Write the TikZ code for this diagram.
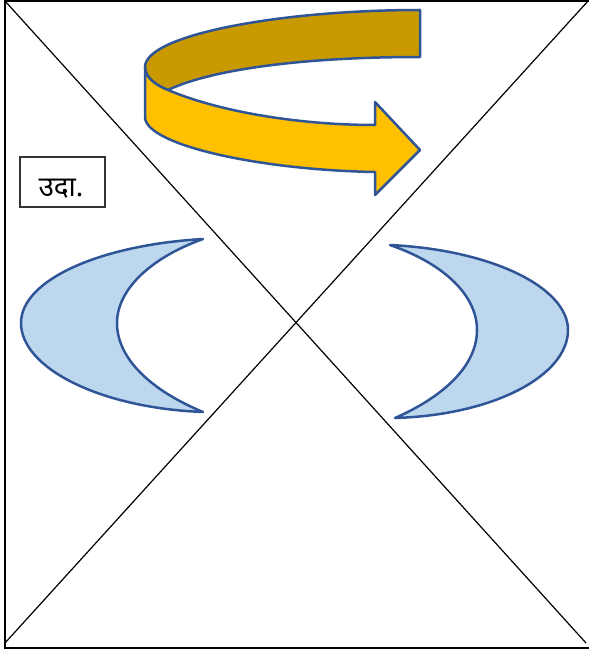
\documentclass[tikz,border=0pt]{standalone}
\usepackage{fontspec}
\newfontfamily\devfont[Script=Devanagari]{Noto Sans}
\definecolor{outl}{HTML}{2F5597}
\definecolor{darkgold}{HTML}{C99A00}
\definecolor{gold}{HTML}{FFC000}
\definecolor{moon}{HTML}{BDD7EE}
\tikzset{
  shapeline/.style={draw=outl, line width=2.5pt, line join=round},
  diag/.style={draw=black, line width=1.2pt},
  frameline/.style={draw=black, line width=2pt},
  labelbox/.style={draw=black!80, line width=2.2pt, fill=white, minimum width=85pt, minimum height=50pt, inner sep=0pt},
  labeltext/.style={inner sep=0pt, font=\devfont\fontsize{28}{32}\selectfont}
}
\begin{document}
\begin{tikzpicture}[x=1pt,y=-1pt]
\useasboundingbox (0,0) rectangle (589,650);
% frame
\coordinate (TL) at (5,1);
\coordinate (TR) at (589,1);
\coordinate (BL) at (5,648);
\coordinate (BR) at (589,648);
\draw[frameline] (TR) -- (TL) -- (BL) -- (BR);
% diagonals
\coordinate (d1a) at (5,1);
\coordinate (d1b) at (586,643);
\coordinate (d2a) at (5,643);
\coordinate (d2b) at (588,1);
\draw[diag] (d1a) -- (d1b);
\draw[diag] (d2a) -- (d2b);
% curved arrow: back (dark) band
\path[shapeline, fill=darkgold]
  (420,10) -- (420,57) .. controls (300,57) and (210,70) .. (168,90)
  .. controls (155,85) and (145,77) .. (145,67)
  .. controls (145,35) and (280,10) .. (420,10) -- cycle;
% front (yellow) band with head
\path[shapeline, fill=gold]
  (145,67) .. controls (145,77) and (155,85) .. (168,90)
  .. controls (220,112) and (300,125) .. (375,125)
  -- (375,102) -- (420,150) -- (375,195) -- (375,172)
  .. controls (260,170) and (145,145) .. (145,117) -- cycle;
% left crescent
\path[shapeline, fill=moon]
  (203,239) .. controls (100,245) and (21,280) .. (21,323)
  .. controls (21,368) and (100,408) .. (203,412)
  .. controls (150,390) and (117,358) .. (117,323)
  .. controls (117,290) and (150,258) .. (203,239) -- cycle;
% right crescent
\path[shapeline, fill=moon]
  (390,245) .. controls (493,250) and (568,288) .. (568,330)
  .. controls (568,375) and (495,415) .. (395,418)
  .. controls (445,396) and (477,365) .. (477,330)
  .. controls (477,296) and (445,264) .. (390,245) -- cycle;
% label
\node[labelbox] (lbl) at (62.5,182) {};
\node[labeltext] (lbltext) at (61,189) {उदा.};
\end{tikzpicture}
\end{document}
